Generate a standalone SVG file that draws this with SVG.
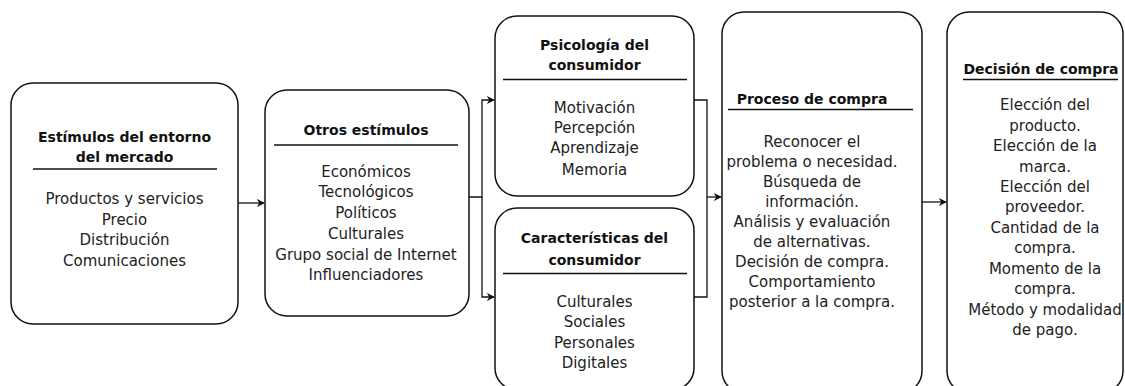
<svg xmlns="http://www.w3.org/2000/svg" width="1125" height="386" viewBox="0 0 1125 386">
<defs>
<style>
.box{fill:#fff;stroke:#111;stroke-width:1.5}
.hl{stroke:#111;stroke-width:1.3}
.t{font-family:"DejaVu Sans","Liberation Sans",sans-serif;font-size:14px;font-weight:bold;fill:#111;text-anchor:middle}
.b{font-family:"DejaVu Sans","Liberation Sans",sans-serif;font-size:15px;fill:#222;text-anchor:middle}
.c{fill:none;stroke:#111;stroke-width:1.3}
</style>
<marker id="ah" viewBox="0 0 10 10" refX="9" refY="5" markerWidth="8" markerHeight="8" markerUnits="userSpaceOnUse" orient="auto">
<path d="M0,0 L10,5 L0,10 L3,5 Z" fill="#111"/>
</marker>
</defs>
<rect width="1125" height="386" fill="#fff"/>
<g id="connectors">
<path class="c" d="M238,203 H264" marker-end="url(#ah)"/>
<path class="c" d="M469,197 H482 V100 H494" marker-end="url(#ah)"/>
<path class="c" d="M482,197 V297 H494" marker-end="url(#ah)"/>
<path class="c" d="M694,100 H707 V297 H694"/>
<path class="c" d="M707,197 H721" marker-end="url(#ah)"/>
<path class="c" d="M922,202 H946" marker-end="url(#ah)"/>
</g>
<g id="n1">
<rect class="box" x="11" y="83" width="227" height="241" rx="22"/>
<text class="t" x="124.5" y="142">Estímulos del entorno</text>
<text class="t" x="124.5" y="162">del mercado</text>
<line class="hl" x1="33" y1="169" x2="217" y2="169"/>
<text class="b" x="124.5" y="204">Productos y servicios</text>
<text class="b" x="124.5" y="224.5">Precio</text>
<text class="b" x="124.5" y="245">Distribución</text>
<text class="b" x="124.5" y="265.5">Comunicaciones</text>
</g>
<g id="n2">
<rect class="box" x="265" y="90" width="204" height="226" rx="22"/>
<text class="t" x="366" y="135">Otros estímulos</text>
<line class="hl" x1="274" y1="145" x2="458" y2="145"/>
<text class="b" x="366" y="177">Económicos</text>
<text class="b" x="366" y="197">Tecnológicos</text>
<text class="b" x="366" y="218">Políticos</text>
<text class="b" x="366" y="238.5">Culturales</text>
<text class="b" x="366" y="259.5">Grupo social de Internet</text>
<text class="b" x="366" y="280">Influenciadores</text>
</g>
<g id="n3">
<rect class="box" x="495" y="16" width="199" height="180" rx="22"/>
<text class="t" x="594.5" y="50">Psicología del</text>
<text class="t" x="594.5" y="70">consumidor</text>
<line class="hl" x1="503" y1="79.5" x2="687" y2="79.5"/>
<text class="b" x="594.5" y="113">Motivación</text>
<text class="b" x="594.5" y="133">Percepción</text>
<text class="b" x="594.5" y="153">Aprendizaje</text>
<text class="b" x="594.5" y="175">Memoria</text>
</g>
<g id="n4">
<rect class="box" x="495" y="208" width="199" height="182" rx="22"/>
<text class="t" x="594.5" y="243">Características del</text>
<text class="t" x="594.5" y="265">consumidor</text>
<line class="hl" x1="503" y1="273.5" x2="687" y2="273.5"/>
<text class="b" x="594.5" y="307">Culturales</text>
<text class="b" x="594.5" y="327">Sociales</text>
<text class="b" x="594.5" y="348">Personales</text>
<text class="b" x="594.5" y="368">Digitales</text>
</g>
<g id="n5">
<rect class="box" x="722" y="12" width="200" height="381" rx="22"/>
<text class="t" x="812" y="104">Proceso de compra</text>
<line class="hl" x1="728" y1="109.5" x2="913" y2="109.5"/>
<text class="b" x="812" y="147">Reconocer el</text>
<text class="b" x="812" y="167">problema o necesidad.</text>
<text class="b" x="812" y="187">Búsqueda de</text>
<text class="b" x="812" y="207">información.</text>
<text class="b" x="812" y="227">Análisis y evaluación</text>
<text class="b" x="812" y="247">de alternativas.</text>
<text class="b" x="812" y="267">Decisión de compra.</text>
<text class="b" x="812" y="287">Comportamiento</text>
<text class="b" x="812" y="307">posterior a la compra.</text>
</g>
<g id="n6">
<rect class="box" x="947" y="12" width="176" height="381" rx="22"/>
<text class="t" x="1041" y="74">Decisión de compra</text>
<line class="hl" x1="963" y1="79.5" x2="1118" y2="79.5"/>
<text class="b" x="1045" y="110">Elección del</text>
<text class="b" x="1045" y="130.5">producto.</text>
<text class="b" x="1045" y="151">Elección de la</text>
<text class="b" x="1045" y="171.5">marca.</text>
<text class="b" x="1045" y="192">Elección del</text>
<text class="b" x="1045" y="212">proveedor.</text>
<text class="b" x="1045" y="233">Cantidad de la</text>
<text class="b" x="1045" y="253">compra.</text>
<text class="b" x="1045" y="274">Momento de la</text>
<text class="b" x="1045" y="294">compra.</text>
<text class="b" x="1045" y="315">Método y modalidad</text>
<text class="b" x="1045" y="335">de pago.</text>
</g>
</svg>
